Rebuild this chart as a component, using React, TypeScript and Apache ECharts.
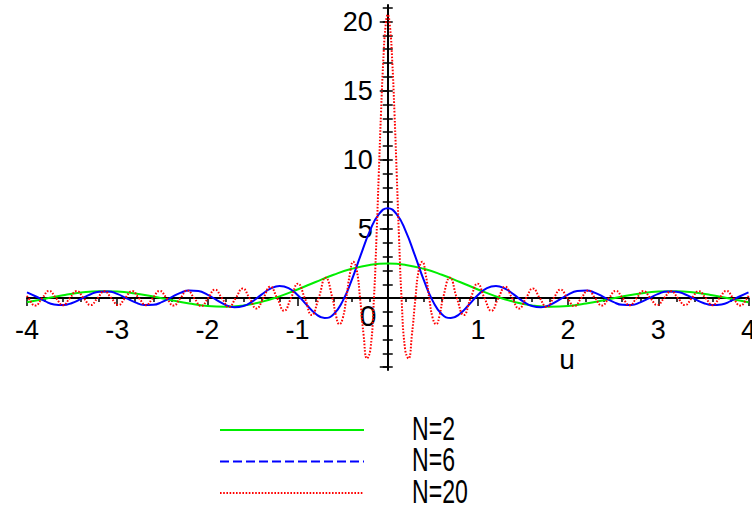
import React, { useEffect, useRef } from "react";
import * as echarts from "echarts";

const FONT = '"Liberation Sans", Arial, sans-serif';

const seriesNames = ["N=2", "N=6", "N=20"];
const xLabelValues = [-4, -3, -2, -1, 1, 2, 3, 4];
const yLabelValues = [5, 10, 15, 20];
const yMajorTicks = [-5, 0, 5, 10, 15, 20];
const yMinorTicks = [-5, -4, -3, -2, -1, 0, 1, 2, 3, 4, 5, 6, 7, 8, 9, 10, 11, 12, 13, 14, 15, 16, 17, 18, 19, 20, 21];

const uGreen = [-4, -3.8, -3.6, -3.4, -3.2, -3, -2.8, -2.6, -2.4, -2.2, -2, -1.8, -1.6, -1.4, -1.2, -1, -0.8, -0.6, -0.4, -0.2, 0, 0.2, 0.4, 0.6, 0.8, 1, 1.2, 1.4, 1.6, 1.8, 2, 2.2, 2.4, 2.6, 2.8, 3, 3.2, 3.4, 3.6, 3.8, 4];
const green = [-0.3, -0.043, 0.211, 0.402, 0.495, 0.47, 0.334, 0.111, -0.15, -0.396, -0.57, -0.624, -0.527, -0.272, 0.125, 0.624, 1.168, 1.687, 2.118, 2.401, 2.5, 2.401, 2.118, 1.687, 1.168, 0.624, 0.125, -0.272, -0.527, -0.624, -0.57, -0.396, -0.15, 0.111, 0.334, 0.47, 0.495, 0.402, 0.211, -0.043, -0.3];

const uBlue = [-4, -3.9, -3.8, -3.7, -3.6, -3.5, -3.4, -3.3, -3.2, -3.1, -3, -2.9, -2.8, -2.7, -2.6, -2.5, -2.4, -2.3, -2.2, -2.1, -2, -1.9, -1.8, -1.7, -1.6, -1.5, -1.4, -1.3, -1.2, -1.1, -1, -0.9, -0.8, -0.7, -0.6, -0.5, -0.4, -0.3, -0.2, -0.1, 0, 0.1, 0.2, 0.3, 0.4, 0.5, 0.6, 0.7, 0.8, 0.9, 1, 1.1, 1.2, 1.3, 1.4, 1.5, 1.6, 1.7, 1.8, 1.9, 2, 2.1, 2.2, 2.3, 2.4, 2.5, 2.6, 2.7, 2.8, 2.9, 3, 3.1, 3.2, 3.3, 3.4, 3.5, 3.6, 3.7, 3.8, 3.9, 4];
const blue = [0.419, 0.116, -0.222, -0.459, -0.507, -0.35, -0.055, 0.258, 0.465, 0.482, 0.304, 0, -0.307, -0.494, -0.482, -0.272, 0.058, 0.377, 0.554, 0.509, 0.25, -0.132, -0.487, -0.665, -0.576, -0.234, 0.248, 0.683, 0.884, 0.729, 0.224, -0.482, -1.134, -1.439, -1.164, -0.219, 1.297, 3.108, 4.826, 6.054,
  6.5,
  6.054, 4.826, 3.108, 1.297, -0.219, -1.164, -1.439, -1.134, -0.482, 0.224, 0.729, 0.884, 0.683, 0.248, -0.234, -0.576, -0.665, -0.487, -0.132, 0.25, 0.509, 0.554, 0.377, 0.058, -0.272, -0.482, -0.494, -0.307, 0, 0.304, 0.482, 0.465, 0.258, -0.055, -0.35, -0.507, -0.459, -0.222, 0.116, 0.419];

const uRed = [-4, -3.985, -3.908, -3.831, -3.755, -3.678, -3.601, -3.525, -3.448, -3.372, -3.295, -3.218, -3.142, -3.065, -2.988, -2.912, -2.835, -2.759, -2.682, -2.605, -2.529, -2.452, -2.375, -2.299, -2.222, -2.146, -2.069, -1.992, -1.916, -1.839, -1.762, -1.686, -1.609, -1.533, -1.456, -1.379, -1.303, -1.226, -1.149, -1.073, -0.996, -0.92, -0.843, -0.766, -0.69, -0.613, -0.575, -0.536, -0.498, -0.46, -0.421, -0.383, -0.345, -0.307, -0.268, -0.23, -0.192, -0.153, -0.125, -0.1, -0.075, -0.05, -0.025,
  0,
  0.025, 0.05, 0.075, 0.1, 0.125, 0.153, 0.192, 0.23, 0.268, 0.307, 0.345, 0.383, 0.421, 0.46, 0.498, 0.536, 0.575, 0.613, 0.69, 0.766, 0.843, 0.92, 0.996, 1.073, 1.149, 1.226, 1.303, 1.379, 1.456, 1.533, 1.609, 1.686, 1.762, 1.839, 1.916, 1.992, 2.069, 2.146, 2.222, 2.299, 2.375, 2.452, 2.529, 2.605, 2.682, 2.759, 2.835, 2.912, 2.988, 3.065, 3.142, 3.218, 3.295, 3.372, 3.448, 3.525, 3.601, 3.678, 3.755, 3.831, 3.908, 3.985, 4];
const red = [0.172, 0, -0.539, 0, 0.524, 0, -0.514, 0, 0.506, 0, -0.501, 0, 0.5, 0, -0.501, 0, 0.506, 0, -0.514, 0, 0.524, 0, -0.539, 0, 0.558, 0, -0.582, 0, 0.611, 0, -0.648, 0, 0.694, 0, -0.752, 0, 0.825, 0, -0.92, 0, 1.047, 0, -1.222, 0, 1.479, 0, -1.248, -1.887, -1.434, 0, 1.691, 2.626, 2.061, 0, -2.644, -4.36, -3.696, 0, 4.383, 8.878, 13.33, 17.1, 19.62,
  20.5,
  19.62, 17.1, 13.33, 8.878, 4.383, 0, -3.696, -4.36, -2.644, 0, 2.061, 2.626, 1.691, 0, -1.434, -1.887, -1.248, 0, 1.479, 0, -1.222, 0, 1.047, 0, -0.92, 0, 0.825, 0, -0.752, 0, 0.694, 0, -0.648, 0, 0.611, 0, -0.582, 0, 0.558, 0, -0.539, 0, 0.524, 0, -0.514, 0, 0.506, 0, -0.501, 0, 0.5, 0, -0.501, 0, 0.506, 0, -0.514, 0, 0.524, 0, -0.539, 0, 0.172];

const colors = ["#00ee00", "#0000ff", "#ff0000"];

const pairs = (xs: number[], ys: number[]) => xs.map((x, i) => [x, ys[i]]);

export default function App() {
  const ref = useRef<HTMLDivElement>(null);
  useEffect(() => {
    if (!ref.current) return;
    const chart = echarts.init(ref.current, null, { renderer: "svg" });
    const X_MIN = -4, X_MAX = 4, Y_MIN = -5.2, Y_MAX = 21.2;
    const black = { color: "#000", width: 1.5 };
    const hiddenX = (gridIndex: number) => ({ type: "value", gridIndex, min: X_MIN, max: X_MAX, show: false });
    const hiddenY = (gridIndex: number) => ({ type: "value", gridIndex, min: Y_MIN, max: Y_MAX, show: false });
    const yC = {
      type: "value",
      gridIndex: 2,
      min: Y_MIN,
      max: Y_MAX,
      position: "left",
      splitLine: { show: false },
    };
    const legendRows = [430, 461.5, 493];
    const legendDash: any[] = ["solid", [9, 4], [1.6, 1.6]];
    const legendGraphics: any[] = [];
    seriesNames.forEach((name, i) => {
      legendGraphics.push({
        type: "line",
        shape: { x1: 220, y1: legendRows[i], x2: 364, y2: legendRows[i] },
        style: { stroke: colors[i], lineWidth: 2, lineDash: legendDash[i] === "solid" ? null : legendDash[i] },
      });
      legendGraphics.push({
        type: "text",
        x: 412,
        y: legendRows[i] - 2,
        scaleX: 0.7,
        style: { text: name, fontFamily: FONT, fontSize: 33, fill: "#000", textAlign: "left", textVerticalAlign: "middle" },
      });
    });
    chart.setOption({
      animation: false,
      backgroundColor: "#ffffff",
      grid: [
        { left: 27, right: 3.5, top: 5, bottom: 141, containLabel: false, outerBoundsMode: "none" },
        { left: 27, right: 3.5, top: 5, bottom: 213, containLabel: false, outerBoundsMode: "none" },
        { left: 387.75, right: 3.5, top: 5, bottom: 141, containLabel: false, outerBoundsMode: "none" },
      ],
      xAxis: [
        hiddenX(0),
        {
          type: "value",
          gridIndex: 1,
          min: X_MIN,
          max: X_MAX,
          interval: 1,
          position: "bottom",
          splitLine: { show: false },
          axisLine: { show: true, onZero: false, lineStyle: { color: "#000", width: 2 } },
          axisTick: { show: true, length: 8, lineStyle: black },
          minorTick: { show: true, splitNumber: 5, length: 4, lineStyle: black },
          axisLabel: {
            show: true,
            customValues: xLabelValues,
            showMinLabel: true,
            showMaxLabel: true,
            margin: 18,
            color: "#000",
            fontFamily: FONT,
            fontSize: 27,
          },
        },
        hiddenX(2),
      ],
      yAxis: [
        hiddenY(0),
        hiddenY(1),
        {
          ...yC,
          axisLine: { show: true, onZero: false, lineStyle: { color: "#000", width: 2 } },
          axisTick: { show: true, customValues: yMajorTicks, length: 8, lineStyle: black },
          axisLabel: { show: true, customValues: yLabelValues, margin: 15, color: "#000", fontFamily: FONT, fontSize: 27 },
        },
        {
          ...yC,
          axisLine: { show: false, onZero: false },
          axisTick: { show: true, customValues: yMinorTicks, length: 5, lineStyle: black },
          axisLabel: { show: false },
        },
        {
          ...yC,
          axisLine: { show: false, onZero: false },
          axisTick: { show: true, inside: true, customValues: yMinorTicks, length: 5, lineStyle: black },
          axisLabel: { show: false },
        },
      ],
      graphic: [
        { type: "text", x: 368, y: 315, style: { text: "0", fontFamily: FONT, fontSize: 30, fill: "#000", textAlign: "center", textVerticalAlign: "middle" } },
        { type: "text", x: 567, y: 359, style: { text: "u", fontFamily: FONT, fontSize: 28, fill: "#000", textAlign: "center", textVerticalAlign: "middle" } },
        ...legendGraphics,
      ],
      series: [
        {
          name: seriesNames[0],
          type: "line",
          xAxisIndex: 0,
          yAxisIndex: 0,
          data: pairs(uGreen, green),
          smooth: true,
          symbol: "none",
          showSymbol: false,
          clip: false,
          lineStyle: { color: colors[0], width: 2 },
          itemStyle: { color: colors[0] },
          z: 3,
        },
        {
          name: seriesNames[1],
          type: "line",
          xAxisIndex: 0,
          yAxisIndex: 0,
          data: pairs(uBlue, blue),
          smooth: true,
          symbol: "none",
          showSymbol: false,
          clip: false,
          lineStyle: { color: colors[1], width: 2 },
          itemStyle: { color: colors[1] },
          z: 4,
        },
        {
          name: seriesNames[2],
          type: "line",
          xAxisIndex: 0,
          yAxisIndex: 0,
          data: pairs(uRed, red),
          smooth: true,
          symbol: "none",
          showSymbol: false,
          clip: false,
          lineStyle: { color: colors[2], width: 2, type: [1.6, 1.6] },
          itemStyle: { color: colors[2] },
          z: 5,
        },
      ],
    });
    return () => chart.dispose();
  }, []);
  return <div ref={ref} style={{ position: "absolute", left: 0, top: 0, width: 752, height: 511 }} />;
}
